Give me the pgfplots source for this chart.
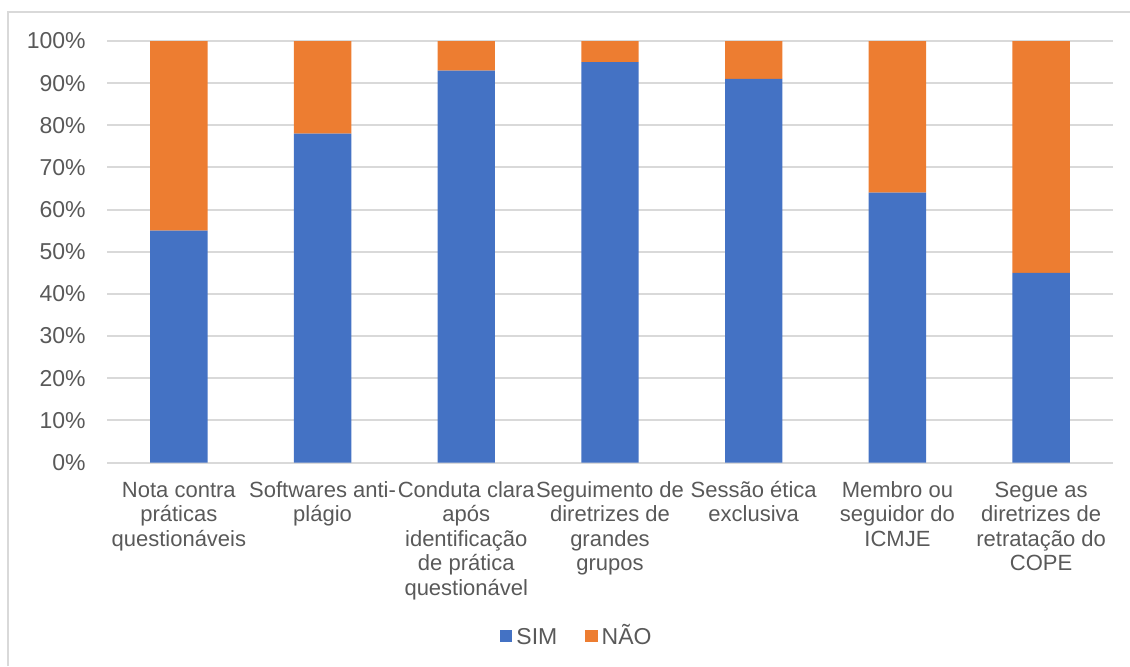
\documentclass[border=0pt]{standalone}
\usepackage{pgfplots}
\pgfplotsset{compat=1.18}
\usepackage{fontspec}
\setmainfont{Liberation Sans}
\definecolor{simblue}{HTML}{4472C4}
\definecolor{naoorange}{HTML}{ED7D31}
\definecolor{gridgray}{HTML}{D9D9D9}
\definecolor{txtgray}{HTML}{595959}
% fixed-height strut so every category label starts at the same baseline
\newcommand\labtop{\rule{0pt}{10pt}}

\begin{document}
\begin{tikzpicture}[x=1pt,y=1pt]
\useasboundingbox (0,0) rectangle (565,333);
% chart area frame (left and top edges)
\draw[gridgray, line width=1pt] (4,0) -- (4,327) -- (566,327);
\begin{axis}[
  at={(53.5pt,101.75pt)}, anchor=south west, scale only axis,
  width=503pt, height=210.75pt,
  ybar stacked, bar width=28.7pt,
  xmin=-0.5, xmax=6.5, ymin=0, ymax=100,
  xtick={0,1,2,3,4,5,6},
  xticklabels={
    {\labtop Nota contra\\práticas\\questionáveis},
    {\labtop Softwares anti-\\plágio},
    {\labtop Conduta clara\\após\\identificação\\de prática\\questionável},
    {\labtop Seguimento de\\diretrizes de\\grandes\\grupos},
    {\labtop Sessão ética\\exclusiva},
    {\labtop Membro ou\\seguidor do\\ICMJE},
    {\labtop Segue as\\diretrizes de\\retratação do\\COPE}},
  ytick={0,10,20,30,40,50,60,70,80,90,100},
  yticklabels={0\%,10\%,20\%,30\%,40\%,50\%,60\%,70\%,80\%,90\%,100\%},
  ymajorgrids, grid style={gridgray, line width=1pt},
  axis line style={draw=none},
  major tick length=0pt,
  tick style={draw=none},
  yticklabel style={text=txtgray, anchor=east, inner sep=0pt, xshift=-10.5pt,
    font=\fontsize{11.5}{13}\selectfont},
  xticklabel style={text=txtgray, anchor=north, inner sep=0pt, yshift=-7.1pt,
    align=center, font=\fontsize{11}{12.3}\selectfont},
  legend columns=2,
  legend style={at={(0.468,-0.4116)}, anchor=center, draw=none, fill=none,
    text=txtgray, font=\fontsize{11.5}{13}\selectfont,
    nodes={text height=8.3pt, text depth=0pt},
    /tikz/every even column/.append style={column sep=12pt}},
  legend image code/.code={\fill[#1] (0pt,-3.1pt) rectangle (6.2pt,3.1pt);},
  clip=false,
]
\addplot[fill=simblue, draw=none] coordinates {(0,55) (1,78) (2,93) (3,95) (4,91) (5,64) (6,45)};
\addplot[fill=naoorange, draw=none] coordinates {(0,45) (1,22) (2,7) (3,5) (4,9) (5,36) (6,55)};
\legend{SIM, NÃO}
\end{axis}
\end{tikzpicture}
\end{document}
